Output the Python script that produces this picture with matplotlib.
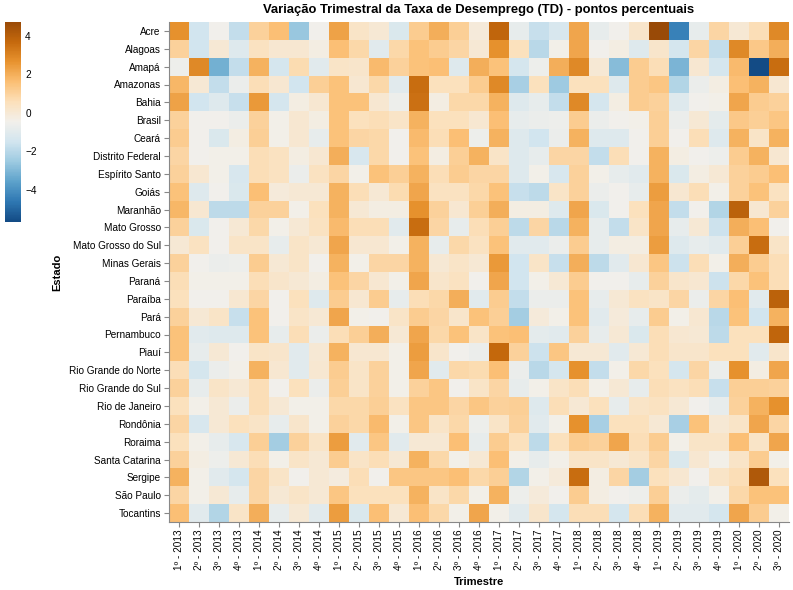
import numpy as np
import matplotlib
matplotlib.use("Agg")
import matplotlib.pyplot as plt
from matplotlib.colors import LinearSegmentedColormap, Normalize

plt.rcParams['font.family'] = ['Liberation Sans', 'DejaVu Sans']

estados = ["Acre", "Alagoas", "Amapá", "Amazonas", "Bahia", "Brasil", "Ceará",
           "Distrito Federal", "Espírito Santo", "Goiás", "Maranhão", "Mato Grosso",
           "Mato Grosso do Sul", "Minas Gerais", "Paraná", "Paraíba", "Pará",
           "Pernambuco", "Piauí", "Rio Grande do Norte", "Rio Grande do Sul",
           "Rio de Janeiro", "Rondônia", "Roraima", "Santa Catarina", "Sergipe",
           "São Paulo", "Tocantins"]

trimestres = [f"{q}º - {a}" for a in range(2013, 2021) for q in range(1, 5)][:31]

# variacao trimestral (p.p.) por estado, 1º-2013 ... 3º-2020
ac = [2.7, -1.5, -0.5, -1.8, 1.0, 1.6, -2.6, -0.5, 2.3, 0.3, 0.0, -1.2, 1.2, 2.0, 1.1, -0.1,
      3.8, -0.8, -1.7, -1.3, 2.2, -0.8, -0.5, 0.2, 4.74, -4.4, -0.8, 0.9, 0.0, 0.6, 2.9]
al = [1.0, -1.5, 0.0, -1.1, 0.4, 0.1, 0.1, -0.3, 1.6, 0.8, -1.0, 0.8, 1.5, 1.2, 0.9, 0.0,
      2.7, 0.5, -2.0, -0.4, 2.2, -0.5, -0.3, -1.1, 0.2, -1.4, 0.9, -1.8, 2.9, 1.3, 2.0]
ap = [-0.6, 2.9, -3.2, -1.8, 1.9, -1.4, 0.7, -1.0, 0.3, 0.2, 1.7, 1.0, 1.5, 1.6, -1.1, 2.0,
      1.5, -1.4, -0.6, 2.0, 2.9, 0.0, -2.9, 1.2, 0.6, -3.1, 0.1, -1.4, 1.7, -5.67, 3.6]
am = [1.8, 0.0, -1.8, -0.7, 0.6, 0.1, -1.5, 1.1, 1.5, 0.1, 0.8, -1.0, 3.6, 0.5, 0.5, 1.2,
      2.9, -2.3, 0.5, -2.5, 0.5, 0.5, -1.1, 1.2, 1.4, -2.1, -0.7, -0.3, 1.6, 1.9, 0.1]
ba = [2.3, -1.5, -1.1, -1.7, 2.5, -1.4, -0.3, 0.1, 1.5, 1.5, 0.1, -0.6, 3.5, -0.3, 0.8, 0.8,
      1.9, -1.1, -0.8, -1.8, 2.9, -1.4, -0.3, 1.2, 1.0, -1.1, -0.5, -0.4, 2.2, 1.2, 1.0]
br = [1.0, -0.5, -0.5, -0.7, 1.0, -0.4, 0.1, -0.3, 1.5, 0.5, 0.6, 0.3, 1.9, 0.5, 0.5, 0.1,
      1.6, -0.8, -0.7, -0.6, 1.2, -0.7, -0.5, -0.4, 1.1, -0.7, 0.0, -0.9, 1.3, 1.1, 1.4]
ce = [1.2, -0.5, -1.2, -0.3, 1.1, -0.4, 0.1, -0.8, 1.5, 0.9, 0.8, -0.5, 1.7, 0.6, 1.6, -0.6,
      1.9, -1.1, -1.5, -0.7, 1.9, -1.1, -1.1, -0.5, 1.1, -0.5, 0.6, -1.1, 1.9, 0.3, 1.9]
df = [0.9, -0.5, -0.4, -0.4, 0.6, 0.4, -0.3, 0.1, 2.0, -1.3, 0.8, -0.5, 1.5, -0.3, 1.1, 1.9,
      0.3, -1.1, -0.8, 0.9, 0.9, -1.8, 0.6, -0.5, 1.9, -0.3, -0.5, -0.6, 1.2, 1.9, 0.1]
es = [1.0, 0.1, -0.4, -1.3, 0.6, 0.4, -0.7, 0.4, 0.9, -0.4, 1.5, 1.1, 1.9, 0.6, 1.2, 0.9,
      0.9, -1.1, -0.4, -1.3, 1.0, -0.4, -0.8, -1.0, 1.9, -1.2, -0.3, 0.0, 1.0, 1.2, 1.6]
go = [1.5, -1.1, -0.5, -1.2, 1.6, -0.1, 0.0, 0.0, 1.9, 0.6, 0.0, 0.7, 2.2, 0.4, 0.4, 0.8,
      1.5, -1.7, -1.9, 0.3, 1.0, -0.7, -0.5, -0.8, 2.4, 0.1, 0.6, -0.4, 1.0, 1.5, 0.4]
ma = [1.8, 0.1, -1.9, -1.9, 1.0, 1.0, -0.4, 0.5, 1.9, 0.0, -0.3, -0.3, 2.7, 1.0, 0.1, 1.1,
      2.0, -0.3, -0.3, -1.1, 2.2, -1.2, -0.5, 0.5, 2.2, -1.8, -0.5, -2.1, 3.9, 0.1, 1.0]
mt = [1.0, -1.2, -0.5, 0.0, 0.8, -0.4, 0.0, 0.4, 1.7, 0.6, 0.6, -1.0, 3.6, 0.9, -0.8, 0.6,
      1.1, -1.9, 0.9, -2.0, 1.9, -0.8, -1.8, 0.3, 2.2, -0.8, 0.0, -1.6, 2.0, 1.6, -0.5]
ms = [0.0, 0.4, -0.5, 0.3, 0.3, -0.8, 0.3, 0.0, 2.2, 0.1, 0.1, -0.4, 1.9, -0.8, 0.8, 0.4,
      1.5, -1.0, -1.0, -0.7, 1.2, -0.8, -0.3, -0.3, 2.4, -1.1, -0.8, -1.0, 1.1, 3.6, 0.3]
mg = [1.0, -0.5, -0.7, -0.6, 1.2, 0.0, 0.3, -0.5, 1.9, -0.4, 0.9, 0.9, 1.9, 0.0, 0.3, 0.0,
      2.5, -1.5, 0.3, -1.7, 2.0, -1.9, -1.0, 0.1, 1.4, -1.6, 0.6, -0.4, 2.0, 1.2, 0.6]
pr = [0.6, -0.4, -0.4, -0.4, 0.6, 0.2, 0.0, -0.3, 1.5, 0.9, 0.1, -0.4, 2.2, 0.2, 0.4, -0.5,
      2.2, -1.5, -0.4, 0.0, 1.2, -0.5, -0.5, -0.8, 1.0, 0.2, 0.1, -1.6, 0.8, 1.5, 0.6]
pb = [0.5, -0.5, -0.5, 0.1, 0.9, -0.5, 0.5, -1.1, 1.2, 0.1, 1.2, -0.8, 0.6, 0.8, 2.0, -1.0,
      1.2, -1.8, -0.7, -0.7, 1.5, -0.8, 0.0, 0.4, 0.3, 0.9, -0.7, 0.9, 1.6, -1.0, 3.9]
pa = [1.0, 0.0, 0.3, -1.7, 1.5, -0.5, 0.3, 0.0, 2.2, -0.4, -0.5, 0.3, 1.2, 0.9, 0.2, 1.5,
      1.1, -2.4, -0.1, -0.4, 1.5, -1.0, -0.1, -0.8, 1.2, -0.4, 0.1, -2.0, 1.5, -1.5, 1.9]
pe = [1.5, -1.0, -1.1, -1.1, 1.5, -0.8, 0.6, -0.7, 0.6, 1.1, 2.0, 0.0, 2.2, 0.8, 1.5, 0.3,
      1.5, 1.6, -0.9, -1.0, 1.0, -0.8, 0.0, -1.2, 0.6, 0.1, 0.0, -1.9, 0.5, 0.5, 3.8]
pi = [1.5, -0.8, 0.0, -0.5, 0.3, 0.2, -1.0, 0.0, 1.9, 0.1, 0.1, -0.4, 2.4, 0.2, -0.5, -0.7,
      3.7, 1.0, -1.6, 1.4, 0.0, 0.0, -1.0, 0.0, 0.6, 0.2, 0.2, 0.5, 0.5, -1.0, 0.2]
rn = [0.6, -1.4, -0.7, -0.4, 1.9, 0.1, -1.0, 0.1, 1.2, 0.3, 1.0, -0.4, 2.2, -1.0, 0.8, 0.7,
      1.6, -0.7, -2.0, -1.4, 2.7, -1.8, -0.4, 0.8, 0.5, -1.4, 0.9, -0.7, 2.7, -0.3, 2.2]
rs = [1.0, -0.8, 0.3, 0.0, 0.6, -0.5, 0.5, -0.7, 1.1, 0.3, 1.0, -0.4, 1.0, 1.4, -0.5, 0.3,
      0.9, -0.8, -0.4, 0.3, 0.6, -0.4, 0.0, -0.8, 0.6, 0.4, 0.6, -1.7, 1.1, 1.1, 1.0]
rj = [0.5, -0.4, 0.0, -0.7, 0.6, 0.0, -0.4, -0.4, 0.8, 0.8, 1.1, 0.4, 1.4, 1.4, 0.9, 1.4,
      1.0, 1.1, -1.1, 0.6, 0.0, 0.5, -0.8, 0.3, 0.4, 0.0, -0.5, -0.8, 1.0, 1.9, 2.7]
ro = [0.9, -1.3, 0.0, 0.5, 0.3, -0.8, 0.2, -0.4, 1.0, 0.8, 1.7, -0.4, 1.4, 0.3, 0.8, -0.6,
      0.3, 1.0, -1.0, -0.4, 2.7, -2.3, 0.5, 0.5, 0.0, -2.3, 1.5, 0.0, 0.3, 2.2, 0.9]
rr = [0.5, -0.4, -0.8, -1.3, 1.1, -2.4, 1.0, 0.3, 2.4, -1.0, 1.4, -1.0, 0.0, 0.0, 1.6, -0.8,
      1.2, 0.5, -1.9, 0.5, 1.2, 1.0, 2.2, 0.6, 1.2, -0.4, 0.3, 0.3, 1.6, 0.3, 2.2]
sc = [1.0, -0.3, -0.6, 0.0, 0.6, -0.4, 0.3, 0.0, 1.2, 0.3, 0.6, 0.0, 1.9, 0.8, -0.4, 0.0,
      1.6, -0.4, -0.8, -0.4, 0.3, 0.3, 0.0, 0.3, 0.9, -1.2, 0.1, -0.4, 0.3, 1.2, -0.4]
se = [1.9, -0.4, -1.0, -1.4, 0.9, 0.3, -0.5, 0.0, -0.2, 0.6, -0.5, 1.4, 1.4, 1.4, 1.6, 0.8,
      1.1, -2.1, -0.4, -0.1, 3.6, -0.3, 0.9, -2.4, 0.5, 0.1, -0.5, 0.3, 0.6, 4.2, 0.5]
sp = [0.9, -0.4, 0.0, -0.8, 0.9, 0.0, 0.3, 0.0, 1.4, 0.5, 0.5, 0.5, 1.9, 0.3, 0.8, -0.4,
      1.9, -0.6, -0.1, -0.5, 1.2, -0.3, -0.5, -0.6, 1.1, -0.7, -0.9, -0.4, 0.8, 1.5, 1.5]
to = [1.6, -1.0, -2.1, 0.3, 2.0, -0.8, 0.0, -1.0, 2.4, -1.2, 1.6, 0.0, 1.6, 0.8, -0.4, 2.2,
      -0.4, -1.0, 0.2, -1.4, 0.6, 0.6, -1.4, 0.6, 1.9, -1.0, -1.0, -1.4, 2.2, 1.2, -0.4]

valores = np.array([ac, al, ap, am, ba, br, ce, df, es, go, ma, mt, ms, mg, pr, pb,
                    pa, pe, pi, rn, rs, rj, ro, rr, sc, se, sp, to])

# vega "blueorange" scheme
cores = ["#134b85", "#2f78b3", "#5da2cb", "#9dcae1", "#d2e5ef", "#f2f0eb",
         "#fce0ba", "#fbbf74", "#e8932f", "#c5690d", "#994a07"]
cmap = LinearSegmentedColormap.from_list("blueorange", cores)
norm = Normalize(vmin=valores.min(), vmax=valores.max())

fig = plt.figure(figsize=(7.93, 5.90), dpi=100)
ax = fig.add_axes([168.5 / 793, 68 / 590, 620 / 793, 500 / 590])
im = ax.imshow(valores, cmap=cmap, norm=norm, aspect='auto', interpolation='nearest')

ax.set_xticks(range(len(trimestres)))
ax.set_xticklabels(trimestres, rotation=90, fontsize=7.2)
ax.set_yticks(range(len(estados)))
ax.set_yticklabels(estados, fontsize=7.2)
ax.tick_params(axis='both', length=3.6, width=0.8, color='#888888', pad=2)
for s in ['top', 'right']:
    ax.spines[s].set_visible(False)
for s in ['left', 'bottom']:
    ax.spines[s].set_color('#888888')
    ax.spines[s].set_linewidth(0.8)

ax.set_xlabel('Trimestre', fontsize=8, fontweight='bold')
ax.xaxis.set_label_coords(0.5, -0.11)
ax.set_ylabel('Estado', fontsize=8, fontweight='bold')
ax.yaxis.set_label_coords(-0.172, 0.5)

fig.text(478.5 / 793, 1 - 10 / 590, 'Variação Trimestral da Taxa de Desemprego (TD) - pontos percentuais',
         ha='center', va='center', fontsize=9.4, fontweight='bold')

cax = fig.add_axes([5 / 793, (590 - 221.7) / 590, 16 / 793, 200 / 590])
cb = fig.colorbar(im, cax=cax)
cb.outline.set_visible(False)
cb.set_ticks([4, 2, 0, -2, -4])
cax.tick_params(length=0, labelsize=7.2, pad=3)

fig.savefig('out.png', dpi=100)
